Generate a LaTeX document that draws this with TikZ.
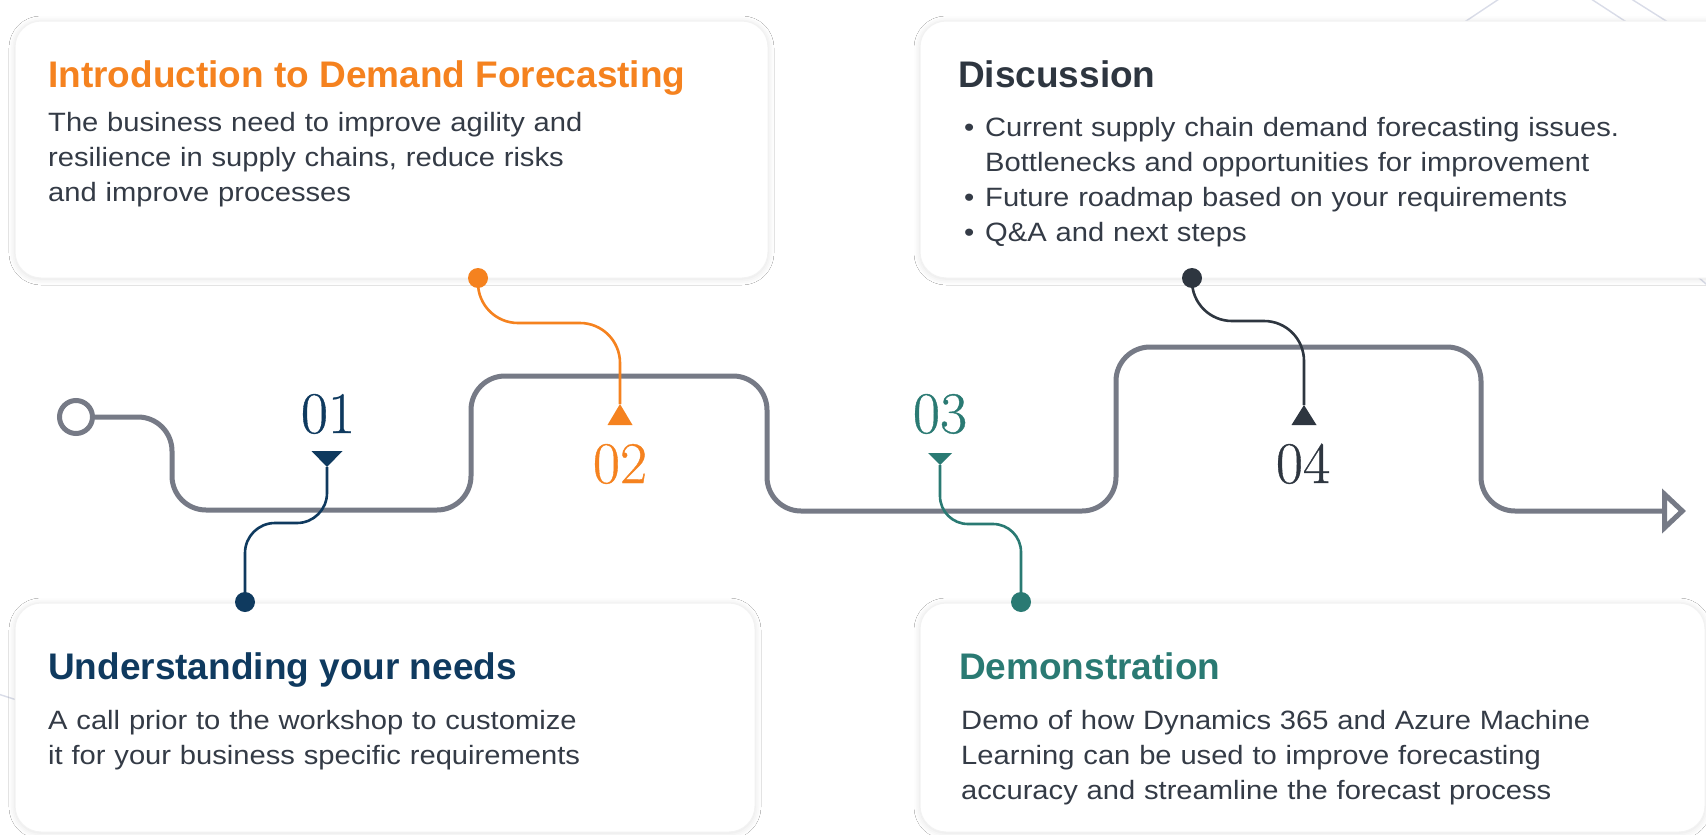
\documentclass[tikz,border=0pt]{standalone}
\usepackage{fontspec}
\newfontfamily\headfont{Liberation Sans}
\newfontfamily\bodyfont[FakeStretch=1.1]{Liberation Sans}
\newfontfamily\numfont[FakeBold=0.6]{Latin Modern Roman}
\usetikzlibrary{arrows.meta,shadows.blur}

\definecolor{orangeA}{HTML}{F5821F}
\definecolor{navyA}{HTML}{0F3A5F}
\definecolor{tealA}{HTML}{2A7A73}
\definecolor{slateA}{HTML}{2E3640}
\definecolor{lineA}{HTML}{767A86}
\definecolor{textA}{HTML}{343B46}
\definecolor{decoA}{HTML}{D9DCE8}

\tikzset{
  card/.style={fill=white, draw=black!5, line width=1pt, rounded corners=26pt,
    blur shadow={shadow xshift=0pt, shadow yshift=-1pt, shadow blur radius=6pt, shadow opacity=12}},
  track/.style={draw=lineA, line width=5pt, rounded corners=34pt},
  link/.style={line width=2.6pt, rounded corners=#1},
  dot/.style={circle, fill=#1, inner sep=0pt, minimum size=20pt},
  num/.style={anchor=base, inner sep=0pt, text=#1, font=\numfont\fontsize{59}{59}\selectfont},
  head/.style={anchor=base west, inner sep=0pt, text=#1, font=\headfont\bfseries\fontsize{37}{44}\selectfont},
  body/.style={anchor=base west, inner sep=0pt, text width=740pt, align=left, text=textA,
    font=\bodyfont\fontsize{26.5}{35}\selectfont},
  deco/.style={draw=decoA, line width=1.4pt}
}

\begin{document}
\begin{tikzpicture}[x=1pt,y=-1pt]
  \fill[white] (0,0) rectangle (1706,835);
  \useasboundingbox (0,0) rectangle (1706,835);

  \draw[deco] (1430,45) -- (1505,-5);
  \draw[deco] (1585,-5) -- (1700,70);
  \draw[deco] (1625,-5) -- (1720,55);
  \draw[deco] (1688,268) -- (1715,292);
  \draw[deco] (-5,693) -- (20,701);

  \path[card] (15,21) rectangle (768,278);
  \path[card] (920,21) rectangle (1740,278);
  \path[card] (15,603) rectangle (755,832);
  \path[card] (920,603) rectangle (1705,832);

  \node[head=orangeA] (H1) at (48,87) {Introduction to Demand Forecasting};
  \node[body] (B1) at (48,131) {The business need to improve agility and\\
    resilience in supply chains, reduce risks\\and improve processes};

  \node[head=slateA] (H4) at (958,87) {Discussion};
  \node[body] (B4) at (964,136) {\makebox[21pt][l]{\textbullet}Current supply chain demand forecasting issues.\\
    \hspace*{21pt}Bottlenecks and opportunities for improvement\\
    \makebox[21pt][l]{\textbullet}Future roadmap based on your requirements\\
    \makebox[21pt][l]{\textbullet}Q\&A and next steps};

  \node[head=navyA] (H2) at (48,679) {Understanding your needs};
  \node[body] (B2) at (48,729) {A call prior to the workshop to customize\\
    it for your business specific requirements};

  \node[head=tealA] (H3) at (959,679) {Demonstration};
  \node[body] (B3) at (961,729) {Demo of how Dynamics 365 and Azure Machine\\
    Learning can be used to improve forecasting\\accuracy and streamline the forecast process};

  \node[circle, draw=lineA, line width=5pt, minimum size=33pt, inner sep=0pt] (S) at (76,417) {};
  \draw[track, -{Triangle[open, length=24pt, width=44pt, line join=miter]}]
    (S.east) -- (172,417) -- (172,510) -- (471,510) -- (471,376) -- (767,376) -- (767,511)
    -- (1116,511) -- (1116,347) -- (1481,347) -- (1481,511) -- (1686,511);

  \coordinate (T1) at (327,467);
  \coordinate (T2) at (620,404);
  \coordinate (T3) at (940,465);
  \coordinate (T4) at (1304,405);

  \node[dot=navyA] (D1) at (245,602) {};
  \node[dot=orangeA] (D2) at (478,278) {};
  \node[dot=tealA] (D3) at (1021,602) {};
  \node[dot=slateA] (D4) at (1192,278) {};

  \draw[link=30, navyA] (D1.center) -- (245,523) -- (327,523) -- (T1);
  \draw[link=40, orangeA] (D2.center) -- (478,323) -- (620,323) -- (T2);
  \draw[link=28, tealA] (T3) -- (940,524) -- (1021,524) -- (D3.center);
  \draw[link=40, slateA] (D4.center) -- (1192,321) -- (1304,321) -- (T4);

  \fill[navyA] (T1) -- ++(-15.5,-16) -- ++(31,0) -- cycle;
  \fill[orangeA] (T2) -- ++(-12.5,21) -- ++(25,0) -- cycle;
  \fill[tealA] (T3) -- ++(-12,-12) -- ++(24,0) -- cycle;
  \fill[slateA] (T4) -- ++(-12.5,20) -- ++(25,0) -- cycle;

  \node[num=navyA] (N1) at (328,433) {01};
  \node[num=orangeA] (N2) at (620,483) {02};
  \node[num=tealA] (N3) at (940,433) {03};
  \node[num=slateA] (N4) at (1303,483) {04};
\end{tikzpicture}
\end{document}
